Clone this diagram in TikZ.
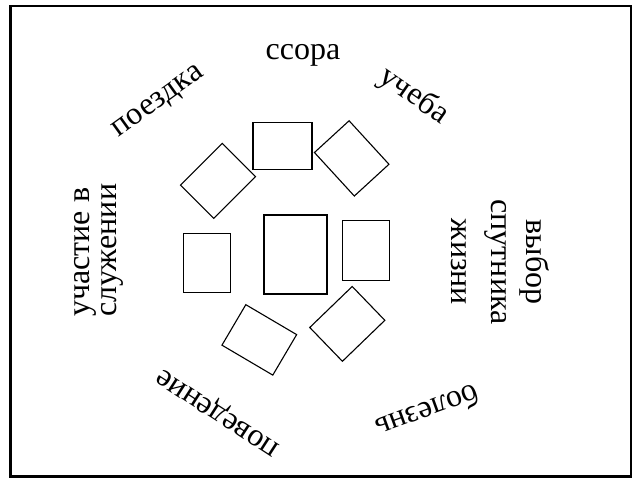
\documentclass[tikz,border=0pt]{standalone}
\usepackage{fontspec}
\setmainfont{Liberation Serif}
\newfontfamily\lserif{Liberation Serif}
\begin{document}
\begin{tikzpicture}[x=1pt,y=1pt,
  lbl/.style={inner sep=0pt, font=\lserif\fontsize{32}{38}\selectfont},
  card/.style={draw, line width=1.1pt, inner sep=0pt, minimum width=59pt, minimum height=47pt},
]
\useasboundingbox (0,0) rectangle (632,478);
\draw[line width=2.5pt] (10.5,1.5) rectangle (630.8,472);
% labels
\node[lbl, anchor=base] (ssora) at (303,418) {ссора};
\node[lbl, anchor=base, rotate=35.8] (poezdka) at (161.7,371.4) {поездка};
\node[lbl, anchor=base, rotate=-35] (ucheba) at (409.2,375.4) {учеба};
\node[lbl, anchor=base west, rotate=90] (uch1) at (89.2,161) {участие в};
\node[lbl, anchor=base west, rotate=90] (uch2) at (116.2,161) {служении};
\node[lbl, anchor=base, rotate=-90] (vyb1) at (526.8,216) {выбор};
\node[lbl, anchor=base, rotate=-90] (vyb2) at (491.8,216) {спутника};
\node[lbl, anchor=base, rotate=-90] (vyb3) at (451.8,216) {жизни};
\node[lbl, anchor=base, rotate=147] (poved) at (221.4,70.7) {поведение};
\node[lbl, anchor=base, rotate=200] (bolezn) at (424.2,75.8) {болезнь};
% boxes
\node[card] (b1) at (282.5,332.2) {};
\node[card, rotate=-47.5] (b2) at (351.7,319.6) {};
\node[card, rotate=45] (b3) at (218,297.1) {};
\node[card, minimum width=47pt, minimum height=59pt] (b4) at (206.7,215.2) {};
\node[card, line width=1.7pt, minimum width=63pt, minimum height=79pt] (b5) at (295.2,223.7) {};
\node[card, line width=1.3pt, minimum width=47pt, minimum height=60pt] (b6) at (366.3,227.8) {};
\node[card, rotate=-30.5] (b7) at (259.3,138.1) {};
\node[card, rotate=44] (b8) at (347.3,154.1) {};
\end{tikzpicture}
\end{document}
